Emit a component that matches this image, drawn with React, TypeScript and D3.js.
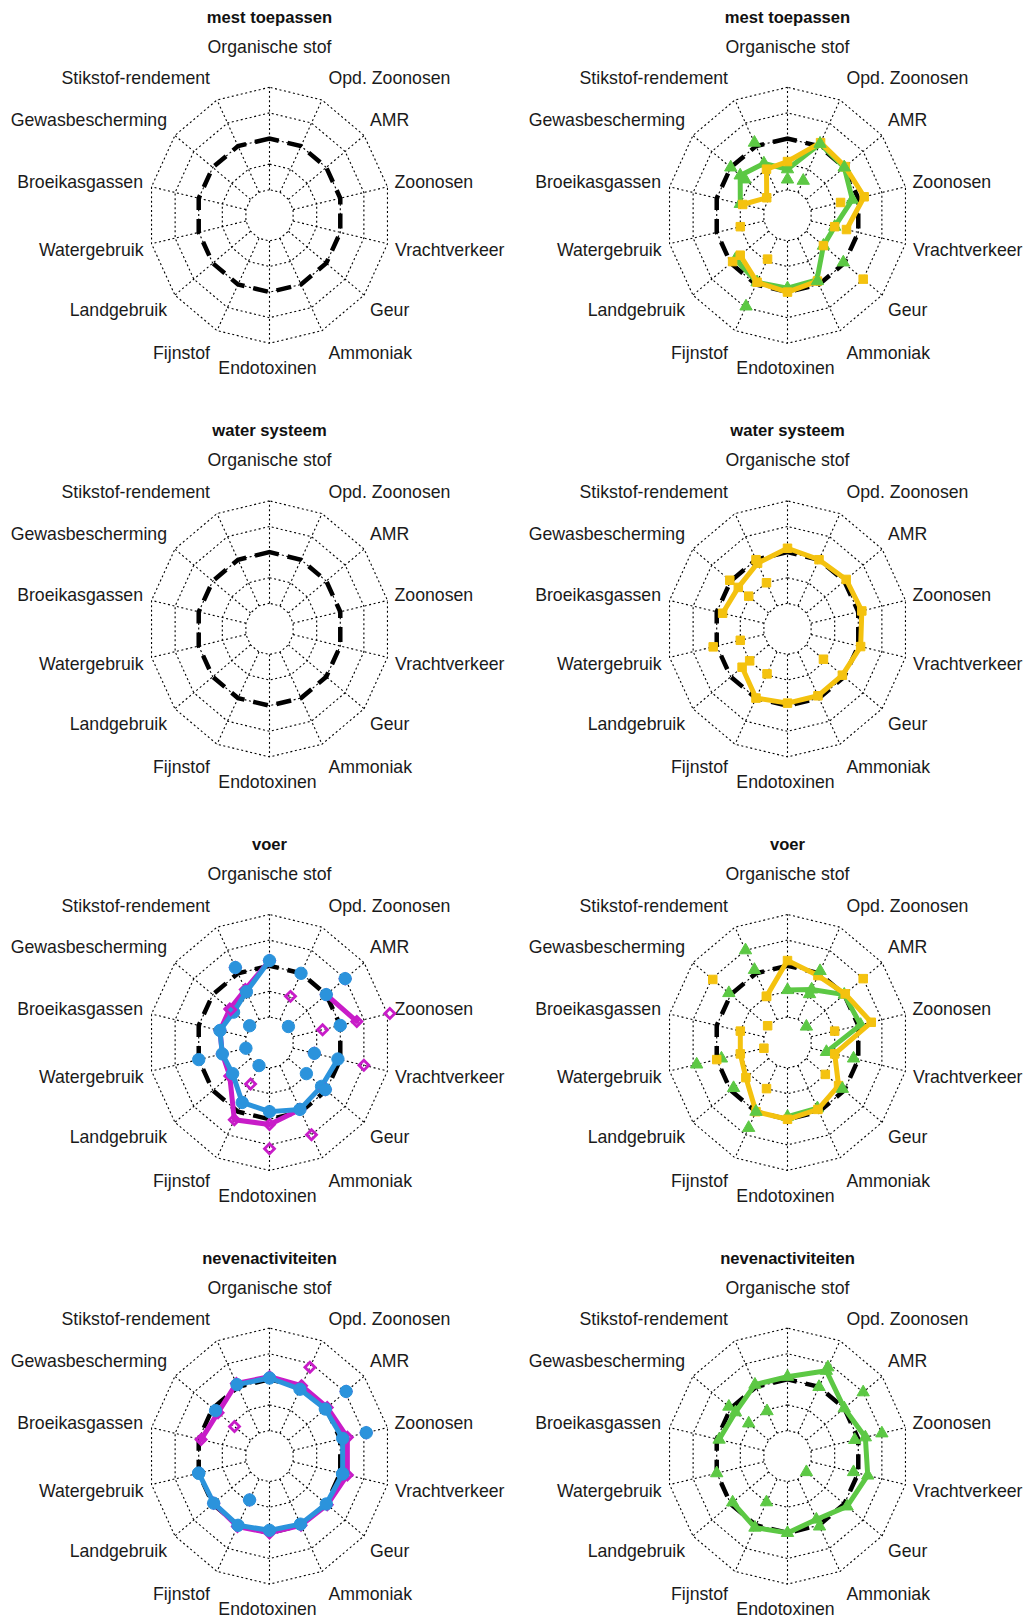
import React from "react";
import * as d3 from "d3";

// ---------- categories / labels ----------
const axisLabels = [
  "Organische stof",
  "Stikstof-rendement",
  "Gewasbescherming",
  "Broeikasgassen",
  "Watergebruik",
  "Landgebruik",
  "Fijnstof",
  "Endotoxinen",
  "Ammoniak",
  "Geur",
  "Vrachtverkeer",
  "Zoonosen",
  "AMR",
  "Opd. Zoonosen",
];
const panelTitles = ["mest toepassen", "water systeem", "voer", "nevenactiviteiten"];
const ringLevels = [0, 1, 2, 3, 4];
const referenceLine = axisLabels.map(() => 2);

// ---------- series values (scale 0..4, reference = 2) ----------
type V = number | null;
type P = [number, number]; // [axis index, value]

// mest toepassen (right)
const mestGreenLine: V[] = [0.8, 1.25, 1.5, 1.0, null, 1.75, 1.9, 1.85, 1.8, 0.9, 1.0, 1.75, 2.0, 2.1];
const mestYellowLine: V[] = [1.1, 1.0, 0.1, 0.9, null, 1.5, 1.9, 2.0, 1.85, null, 1.5, 2.25, 2.05, 2.15];
const mestGreenPoints: P[] = [[0, 0.4], [1, 2.15], [2, 2.0], [2, 1.25], [6, 2.95], [8, 1.85], [9, 1.95], [12, 2.0], [13, 2.1], [13, 0.5]];
const mestYellowPoints: P[] = [[4, 1.0], [5, 1.9], [6, 0.9], [9, 0.9], [9, 3.0], [10, 1.0], [11, 1.25]];

// water systeem (right)
const waterYellowLine: V[] = [2.15, 1.85, 1.6, 1.75, null, 1.4, 2.0, 1.9, 1.9, 1.9, 2.1, 2.15, 2.1, 2.0];
const waterYellowPoints: P[] = [[1, 2.0], [2, 2.05], [4, 2.15], [1, 1.0], [2, 1.05], [4, 1.0], [5, 1.0], [6, 0.95], [9, 0.9]];

// voer (left)
const voerMagentaLine: V[] = [2.2, 1.3, 1.1, 1.1, 1.0, 1.1, 2.35, 2.2, 1.9, null, null, 2.7, 2.0, null];
const voerBlueLine: V[] = [2.2, 1.2, 0.9, 1.1, 1.0, 0.95, 1.6, 1.7, 1.9, 1.75, 1.9, null, null, null];
const voerMagentaPoints: P[] = [[1, 2.25], [2, 1.05], [6, 0.8], [7, 3.15], [8, 3.0], [9, 1.95], [10, 3.0], [10, 0.9], [11, 4.1], [11, 1.25], [12, 3.0], [13, 1.0]];
const voerBluePoints: P[] = [[1, 2.25], [2, 0.05], [4, 2.0], [4, 0.0], [6, 0.0], [9, 0.95], [9, 1.95], [10, 0.9], [11, 2.0], [12, 2.0], [12, 3.0], [12, 0.0], [13, 2.0]];

// voer (right)
const voerGreenLine: V[] = [1.05, null, null, null, null, null, null, 1.9, 1.85, null, 0.65, 2.1, 2.0, 1.3];
const voerYellowLine: V[] = [2.2, 1.0, null, 1.0, 1.0, 1.2, 2.0, 2.0, 1.9, 1.7, 1.0, 2.55, 2.05, 1.9];
const voerGreenPoints: P[] = [[1, 3.0], [1, 2.15], [2, 2.1], [4, 1.8], [4, 2.85], [5, 1.85], [6, 2.7], [6, 2.0], [9, 1.9], [10, 1.8], [12, 0.0], [13, 1.1], [13, 2.1]];
const voerYellowPoints: P[] = [[1, 1.0], [2, 2.95], [2, 0.05], [4, 0.0], [4, 2.0], [6, 1.0], [9, 1.0], [11, 1.0], [12, 3.0]];

// nevenactiviteiten (left)
const nevenMagentaLine: V[] = [2.1, 2.15, 1.72, 1.9, null, 1.95, 2.05, 2.0, 2.0, 2.05, 2.3, 2.3, 2.05, 2.05];
const nevenBlueLine: V[] = [2.05, 2.1, null, null, 2.0, 1.95, 2.0, 1.9, 1.95, 2.0, 2.1, 2.1, 1.95, 1.9];
const nevenMagentaPoints: P[] = [[2, 0.85], [6, 0.9], [11, 3.1], [12, 3.05], [13, 2.85]];
const nevenBluePoints: P[] = [[2, 1.85], [4, 2.0], [6, 0.9], [10, 2.1], [11, 3.1], [12, 3.05]];

// nevenactiviteiten (right)
const nevenGreenLine: V[] = [2.1, 2.1, 1.75, 1.9, null, 1.9, 2.1, 2.0, 1.75, 2.15, 2.4, 2.3, 2.0, 2.7];
const nevenGreenPoints: P[] = [[1, 0.95], [2, 2.1], [2, 1.05], [4, 2.0], [6, 1.0], [8, 2.05], [9, 0.0], [10, 1.8], [11, 3.0], [11, 1.85], [12, 3.0], [13, 2.85], [13, 2.0]];

// ---------- styling ----------
const YELLOW = "#F4C20F";
const GREEN = "#5CC844";
const BLUE = "#2B93DC";
const MAGENTA = "#C81CC8";

type Shape = "square" | "triangle" | "diamond" | "circle";
interface LineS { values: V[]; color: string; shape: Shape; }
interface PointS { pts: P[]; color: string; shape: Shape; }
interface Panel { row: number; col: number; title: string; lines: LineS[]; points: PointS[]; }

const panels: Panel[] = [
  { row: 0, col: 0, title: panelTitles[0], lines: [], points: [] },
  {
    row: 0, col: 1, title: panelTitles[0],
    lines: [
      { values: mestGreenLine, color: GREEN, shape: "triangle" },
      { values: mestYellowLine, color: YELLOW, shape: "square" },
    ],
    points: [
      { pts: mestGreenPoints, color: GREEN, shape: "triangle" },
      { pts: mestYellowPoints, color: YELLOW, shape: "square" },
    ],
  },
  { row: 1, col: 0, title: panelTitles[1], lines: [], points: [] },
  {
    row: 1, col: 1, title: panelTitles[1],
    lines: [{ values: waterYellowLine, color: YELLOW, shape: "square" }],
    points: [{ pts: waterYellowPoints, color: YELLOW, shape: "square" }],
  },
  {
    row: 2, col: 0, title: panelTitles[2],
    lines: [
      { values: voerMagentaLine, color: MAGENTA, shape: "diamond" },
      { values: voerBlueLine, color: BLUE, shape: "circle" },
    ],
    points: [
      { pts: voerMagentaPoints, color: MAGENTA, shape: "diamond" },
      { pts: voerBluePoints, color: BLUE, shape: "circle" },
    ],
  },
  {
    row: 2, col: 1, title: panelTitles[2],
    lines: [
      { values: voerGreenLine, color: GREEN, shape: "triangle" },
      { values: voerYellowLine, color: YELLOW, shape: "square" },
    ],
    points: [
      { pts: voerGreenPoints, color: GREEN, shape: "triangle" },
      { pts: voerYellowPoints, color: YELLOW, shape: "square" },
    ],
  },
  {
    row: 3, col: 0, title: panelTitles[3],
    lines: [
      { values: nevenMagentaLine, color: MAGENTA, shape: "diamond" },
      { values: nevenBlueLine, color: BLUE, shape: "circle" },
    ],
    points: [
      { pts: nevenMagentaPoints, color: MAGENTA, shape: "diamond" },
      { pts: nevenBluePoints, color: BLUE, shape: "circle" },
    ],
  },
  {
    row: 3, col: 1, title: panelTitles[3],
    lines: [{ values: nevenGreenLine, color: GREEN, shape: "triangle" }],
    points: [{ pts: nevenGreenPoints, color: GREEN, shape: "triangle" }],
  },
];

// ---------- layout ----------
const W = 1032;
const H = 1618;
const COL_X = [269.5, 787.5];
const ROW_Y0 = 215.3;
const ROW_STEP = 413.6;
const RX = 121;
const RY = 128;
const FONT = "'Liberation Sans', Arial, sans-serif";

// label offsets relative to the radar centre (text layout)
const labelLayout: { dx: number; dy: number; anchor: string }[] = [
  { dx: 0, dy: -168.6, anchor: "middle" },
  { dx: -59.5, dy: -137, anchor: "end" },
  { dx: -102.5, dy: -95.3, anchor: "end" },
  { dx: -126.5, dy: -33.6, anchor: "end" },
  { dx: -126, dy: 34.7, anchor: "end" },
  { dx: -102.5, dy: 94.7, anchor: "end" },
  { dx: -59.5, dy: 138, anchor: "end" },
  { dx: -2, dy: 153, anchor: "middle" },
  { dx: 59, dy: 138, anchor: "start" },
  { dx: 100.5, dy: 94.7, anchor: "start" },
  { dx: 125.5, dy: 34.7, anchor: "start" },
  { dx: 125, dy: -33.6, anchor: "start" },
  { dx: 100.5, dy: -95.3, anchor: "start" },
  { dx: 59, dy: -137, anchor: "start" },
];

const angle = d3.scaleLinear().domain([0, axisLabels.length]).range([Math.PI / 2, Math.PI / 2 + 2 * Math.PI]);
const radius = d3.scaleLinear().domain([0, 4]).range([0.2, 1]);

function symbolPath(shape: Shape): string {
  if (shape === "square") return d3.symbol().type(d3.symbolSquare).size(72)() as string;
  if (shape === "triangle") return d3.symbol().type(d3.symbolTriangle).size(66)() as string;
  if (shape === "circle") return d3.symbol().type(d3.symbolCircle).size(120)() as string;
  return d3.symbol().type(d3.symbolSquare).size(50)() as string;
}

function Marker({ x, y, shape, color }: { x: number; y: number; shape: Shape; color: string }) {
  if (shape === "diamond") {
    return (
      <path d={symbolPath(shape)} transform={`translate(${x},${y}) rotate(45)`} fill="none" stroke={color} strokeWidth={2.8} />
    );
  }
  return <path d={symbolPath(shape)} transform={`translate(${x},${y})`} fill={color} stroke={color} strokeWidth={1} />;
}

function Radar({ panel }: { panel: Panel }) {
  const cx = COL_X[panel.col];
  const cy = ROW_Y0 + panel.row * ROW_STEP;
  const pos = (i: number, v: number): [number, number] => {
    const a = angle(i);
    const r = radius(v);
    return [cx + RX * r * Math.cos(a), cy - RY * r * Math.sin(a)];
  };
  const idx = d3.range(axisLabels.length);
  const ringPath = (lvl: number) =>
    (d3.line().curve(d3.curveLinearClosed)(idx.map((i) => pos(i, lvl))) as string);

  const seriesLine = d3
    .line<{ i: number; v: V }>()
    .defined((d) => d.v != null)
    .x((d) => pos(d.i, d.v as number)[0])
    .y((d) => pos(d.i, d.v as number)[1]);

  const closed = (vals: V[]) => {
    const arr = vals.map((v, i) => ({ i, v }));
    return [...arr, { i: axisLabels.length, v: vals[0] }];
  };

  return (
    <g>
      <text x={cx} y={cy - 192.5} textAnchor="middle" fontFamily={FONT} fontWeight="bold" fontSize={16.6} fill="#111">
        {panel.title}
      </text>
      {axisLabels.map((lab, i) => (
        <text
          key={lab}
          x={cx + labelLayout[i].dx}
          y={cy + labelLayout[i].dy + 6}
          textAnchor={labelLayout[i].anchor as any}
          fontFamily={FONT}
          fontSize={17.7}
          fill="#1a1a1a"
        >
          {lab}
        </text>
      ))}
      {ringLevels.map((lvl) => (
        <path key={lvl} d={ringPath(lvl)} fill="none" stroke="#000" strokeWidth={1.1} strokeDasharray="2 2.6" />
      ))}
      {idx.map((i) => {
        const [x1, y1] = pos(i, 0);
        const [x2, y2] = pos(i, 4);
        return <line key={i} x1={x1} y1={y1} x2={x2} y2={y2} stroke="#000" strokeWidth={1.1} strokeDasharray="2 2.6" />;
      })}
      <path d={ringPath(referenceLine[0])} fill="none" stroke="#000" strokeWidth={4.5} strokeDasharray="15 9" />
      {panel.lines.map((s, k) => (
        <g key={"l" + k}>
          <path
            d={seriesLine(closed(s.values) as any) as string}
            fill="none"
            stroke={s.color}
            strokeWidth={5}
            strokeLinejoin="round"
            strokeLinecap="round"
          />
          {s.values.map((v, i) => {
            if (v == null) return null;
            const [x, y] = pos(i, v);
            return <Marker key={i} x={x} y={y} shape={s.shape} color={s.color} />;
          })}
        </g>
      ))}
      {panel.points.map((s, k) => (
        <g key={"p" + k}>
          {s.pts.map(([i, v], j) => {
            const [x, y] = pos(i, v);
            return <Marker key={j} x={x} y={y} shape={s.shape} color={s.color} />;
          })}
        </g>
      ))}
    </g>
  );
}

export default function App() {
  return (
    <div style={{ position: "absolute", left: 0, top: 0 }}>
      <svg width={W} height={H} viewBox={`0 0 ${W} ${H}`} style={{ display: "block", background: "#fff" }}>
        <rect width={W} height={H} fill="#fff" />
        {panels.map((p, k) => (
          <Radar key={k} panel={p} />
        ))}
      </svg>
    </div>
  );
}
